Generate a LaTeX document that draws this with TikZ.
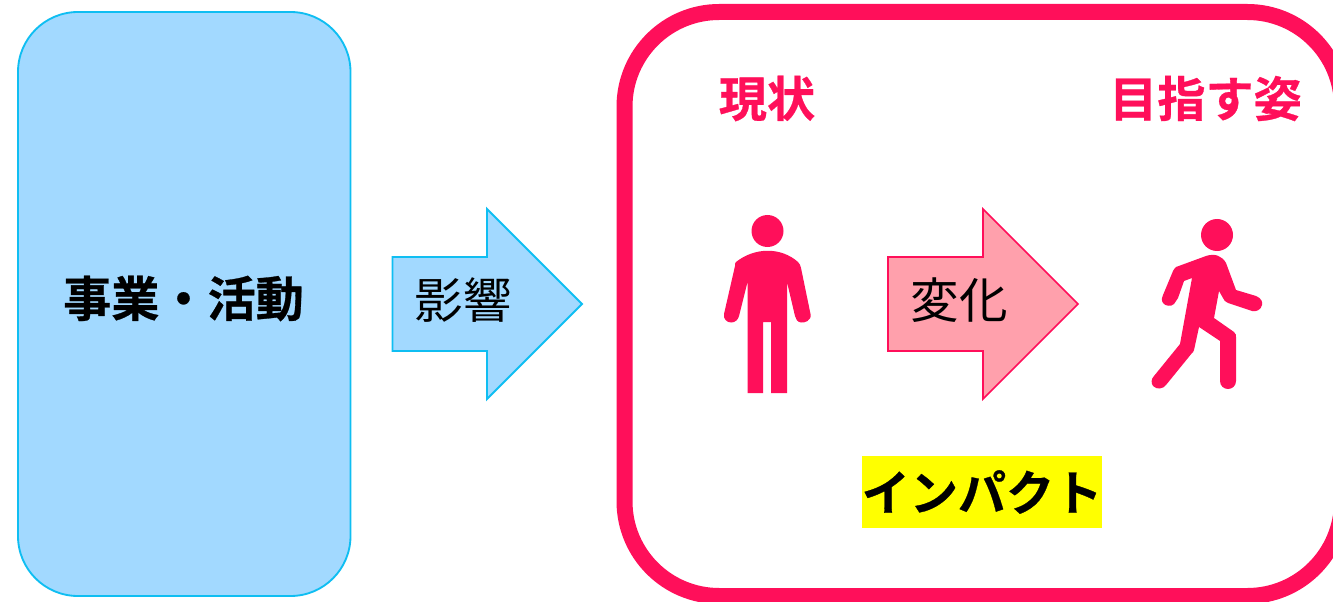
\documentclass[tikz,border=0pt]{standalone}
\usepackage{fontspec}
\newfontfamily\cjk{Noto Sans CJK JP}
\newfontfamily\cjkb[FakeBold=0.6]{Noto Sans CJK JP Bold}
\definecolor{skyfill}{HTML}{A2D9FF}
\definecolor{skyline}{HTML}{0FBEF2}
\definecolor{hot}{HTML}{FF0F5A}
\definecolor{pinkfill}{HTML}{FFA0AC}
\definecolor{marker}{HTML}{FFFF00}
\tikzset{
  x=0.75pt,y=-0.75pt,
  boldtext/.style={font=\cjkb\fontsize{36.1pt}{40pt}\selectfont,inner sep=0pt},
  hottext/.style={boldtext,text=hot},
  arrowtext/.style={font=\cjk\fontsize{36.4pt}{40pt}\selectfont,inner sep=0pt,text=black},
  figure/.style={fill=hot,draw=none}
}
\begin{document}
\begin{tikzpicture}
\useasboundingbox (0,0) rectangle (1333,602);
\clip (0,0) rectangle (1333,602);
\fill[white] (0,0) rectangle (1333,602);
% left panel
\draw[fill=skyfill,draw=skyline,line width=1.4pt,rounded corners=45pt] (18,12) rectangle (350.5,596);
\node[boldtext] (activity) at (183.5,298.5) {事業・活動};
% influence arrow
\draw[fill=skyfill,draw=skyline,line width=1.4pt,line join=miter] (392.5,257) -- (487,257) -- (487,209) -- (582,304) -- (487,399) -- (487,351) -- (392.5,351) -- cycle;
\node[arrowtext] (influence) at (463.5,300) {影響};
% impact frame
\draw[draw=hot,line width=12pt,rounded corners=71pt] (624.5,12) rectangle (1342,596);
\node[hottext] (now) at (767,98.5) {現状};
\node[hottext] (goal) at (1205.5,98.5) {目指す姿};
% change arrow
\draw[fill=pinkfill,draw=hot,line width=1.2pt,line join=miter] (888,257) -- (983,257) -- (983,209) -- (1078,304) -- (983,399) -- (983,351) -- (888,351) -- cycle;
\node[arrowtext] (change) at (959,300) {変化};
% standing person
\fill[figure] (767.5,231) circle (16);
\fill[figure] (736,262) .. controls (755,247) and (781,247) .. (798,262)
  .. controls (800,264) and (800,265) .. (801,268)
  -- (810.5,314) .. controls (812,321) and (804,323) .. (801,322.5)
  .. controls (797,322) and (796,319) .. (795,316)
  -- (787,282) -- (787,393) -- (771,393) -- (771,322) -- (763,322) -- (763,393) -- (747.5,393) -- (747.5,282)
  -- (739,316) .. controls (738,320) and (735,322.5) .. (731,322.5)
  .. controls (727,322.5) and (723,319) .. (724,314)
  -- (735,266) .. controls (735,264) and (735,263) .. (736,262) -- cycle;
% walking person
\fill[figure] (1217,235) circle (16);
\fill[figure] (1176,267) -- (1206,256) .. controls (1215,253) and (1222,256) .. (1226,263)
  -- (1236,290) -- (1256,296) .. controls (1261,298) and (1263,302) .. (1262,305)
  .. controls (1261,310) and (1256,312) .. (1252,311)
  -- (1228,303) .. controls (1225,302) and (1224,300) .. (1223,298)
  -- (1219,291) -- (1214,318) -- (1234,332) .. controls (1236,334) and (1236,335) .. (1236,337)
  -- (1236,381) .. controls (1236,386) and (1232,389) .. (1228,389)
  .. controls (1224,389) and (1220,386) .. (1220,381)
  -- (1220,341) -- (1199,327) -- (1194,350) .. controls (1193,352) and (1193,353) .. (1192,353)
  -- (1166,385) .. controls (1163,389) and (1157,390) .. (1153,386)
  .. controls (1151,383) and (1151,379) .. (1154,376)
  -- (1180,344) -- (1192,278) -- (1184,281) -- (1178,298) -- (1174,304)
  .. controls (1171,307) and (1165,306) .. (1163,303)
  .. controls (1161,300) and (1162,297) .. (1163,295)
  -- (1173,271) .. controls (1174,269) and (1175,268) .. (1176,267) -- cycle;
% impact label
\fill[marker] (862,456) rectangle (1102,528);
\node[boldtext] (impact) at (982,492) {インパクト};
\end{tikzpicture}
\end{document}
